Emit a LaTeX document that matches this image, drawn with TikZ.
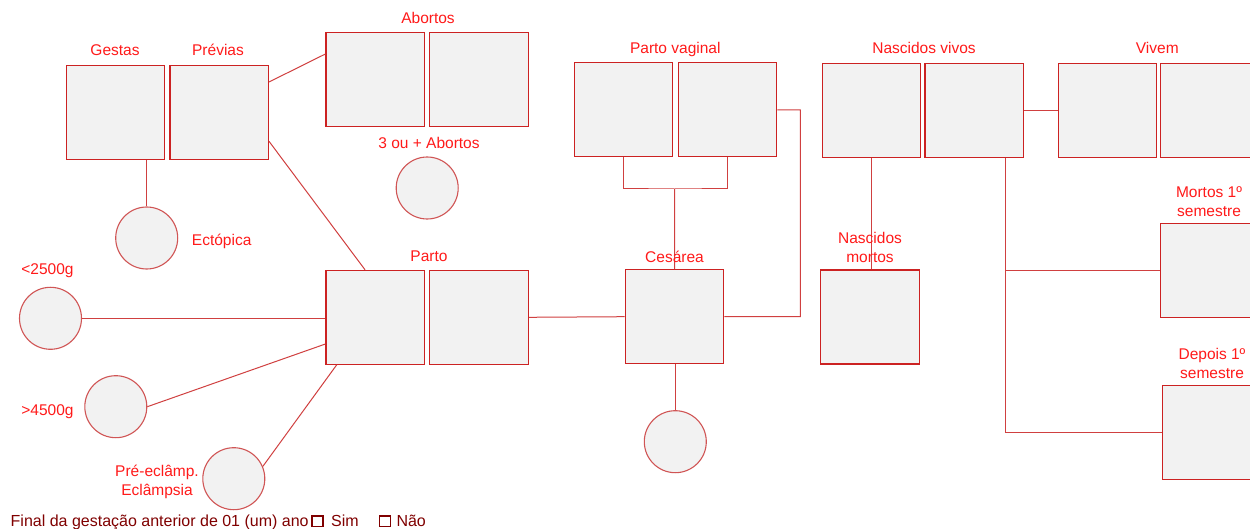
\documentclass[tikz,border=0pt]{standalone}
\usepackage{fontspec}
\setmainfont{Liberation Sans}
\definecolor{boxfill}{HTML}{F2F2F2}
\definecolor{boxred}{HTML}{CC2222}
\definecolor{circred}{HTML}{D05555}
\definecolor{connred}{HTML}{D04040}
\definecolor{lblred}{HTML}{FF1A1A}
\definecolor{darkred}{HTML}{800000}
\begin{document}
\begin{tikzpicture}[x=1pt,y=-1pt,
  boxnode/.style={draw=boxred, fill=boxfill, line width=1.1pt, minimum width=98.5pt, minimum height=94pt, inner sep=0pt},
  circnode/.style={circle, draw=circred, fill=boxfill, line width=1.1pt, minimum size=62pt, inner sep=0pt},
  lbl/.style={text=lblred, font=\fontsize{15.5}{18.7}\selectfont, inner sep=0pt, align=center},
  conn/.style={draw=connred, line width=1pt},
  chk/.style={draw=darkred, line width=1.6pt, minimum width=11pt, minimum height=10.5pt, inner sep=0pt},
  foot/.style={text=darkred, font=\fontsize{16}{19}\selectfont, inner sep=0pt, anchor=base west},
]
\fill[white] (0,0) rectangle (1250,529);
\useasboundingbox (0,0) rectangle (1250,529);

% boxes
\node[boxnode] (gestas) at (115.5,112.5) {};
\node[boxnode] (previas) at (219.2,112.5) {};
\node[boxnode] (ab1) at (375.2,79.3) {};
\node[boxnode] (ab2) at (479,79.2) {};
\node[boxnode] (parto1) at (375.2,317.3) {};
\node[boxnode] (parto2) at (479,317.3) {};
\node[boxnode] (pv1) at (623.5,109.8) {};
\node[boxnode] (pv2) at (727.5,109.8) {};
\node[boxnode] (ces) at (674.5,316.7) {};
\node[boxnode] (nv1) at (871.3,110.8) {};
\node[boxnode] (nv2) at (974.2,110.5) {};
\node[boxnode] (viv1) at (1107.5,110.8) {};
\node[boxnode] (viv2) at (1209.7,110.8) {};
\node[boxnode] (nm) at (870,317) {};
\node[boxnode] (mortos) at (1209.7,270.5) {};
\node[boxnode] (depois) at (1211.7,432.2) {};

% circles
\node[circnode] (ectopica) at (146.7,238) {};
\node[circnode] (tres) at (427.2,188) {};
\node[circnode] (c2500) at (50.5,318.3) {};
\node[circnode] (c4500) at (115.8,406.7) {};
\node[circnode] (pre) at (233.8,478.7) {};
\node[circnode] (cescirc) at (675.3,441.7) {};

% connectors
\draw[conn] (gestas.south -| ectopica.north) -- (ectopica.north);
\draw[conn] (previas.east |- 0,82) -- (ab1.west |- 0,54);
\draw[conn] (previas.east |- 0,141.3) -- (parto1.north -| 365,0);
\draw[conn] (c2500.east) -- (parto1.west |- c2500.east);
\draw[conn] (c4500.east) -- (parto1.west |- 0,344);
\draw[conn] (pre.23) -- (parto1.south -| 336.7,0);
\draw[conn] (parto2.east) -- (ces.west);
\coordinate (brk) at (674.7,189);
\draw[conn] (pv1.south) |- (brk) -| (pv2.south);
\draw[conn] (brk) -- (ces.north);
\coordinate (pvr) at (800.3,110);
\draw[conn] (pv2.east) -- (pvr) |- (ces.east);
\draw[conn] (cescirc.north |- ces.south) -- (cescirc.north);
\draw[conn] (nv1.south) -- (nv1.south |- nm.north);
\draw[conn] (nv2.east) -- (viv1.west |- nv2.east);
\coordinate (nvx) at (1005,0);
\draw[conn] (nv2.south -| nvx) |- (depois.west);
\draw[conn] (nvx |- mortos.west) -- (mortos.west);

% labels
\node[lbl, anchor=base] (lgestas) at (115,55.5) {Gestas};
\node[lbl, anchor=base] (lprevias) at (218,55.5) {Prévias};
\node[lbl, anchor=base] (labortos) at (428,23.8) {Abortos};
\node[lbl, anchor=base] (ltres) at (429,148.8) {3 ou + Abortos};
\node[lbl, anchor=base] (lecto) at (221.7,245.5) {Ectópica};
\node[lbl, anchor=base] (lparto) at (429,261.5) {Parto};
\node[lbl, anchor=base] (l2500) at (47.5,274.8) {<2500g};
\node[lbl, anchor=base] (l4500) at (47.5,415.5) {>4500g};
\node[lbl] (lpre) at (157,482) {Pré-eclâmp.\\Eclâmpsia};
\node[lbl, anchor=base] (lpv) at (675.3,53.8) {Parto vaginal};
\node[lbl, anchor=base] (lces) at (674.5,262.2) {Cesárea};
\node[lbl, anchor=base] (lnv) at (924,53.8) {Nascidos vivos};
\node[lbl, anchor=base] (lviv) at (1157.3,53.8) {Vivem};
\node[lbl] (lnm) at (870,247.3) {Nascidos\\mortos};
\node[lbl] (lmortos) at (1209,201.5) {Mortos 1º\\semestre};
\node[lbl] (ldepois) at (1212,363.7) {Depois 1º\\semestre};

% footer
\node[foot] (final) at (10.5,526.4) {Final da gestação anterior de 01 (um) ano};
\node[chk] (cb1) at (317.3,521.2) {};
\node[foot] (sim) at (331,526.4) {Sim};
\node[chk] (cb2) at (385,521.2) {};
\node[foot] (nao) at (396.3,526.4) {Não};
\end{tikzpicture}
\end{document}
